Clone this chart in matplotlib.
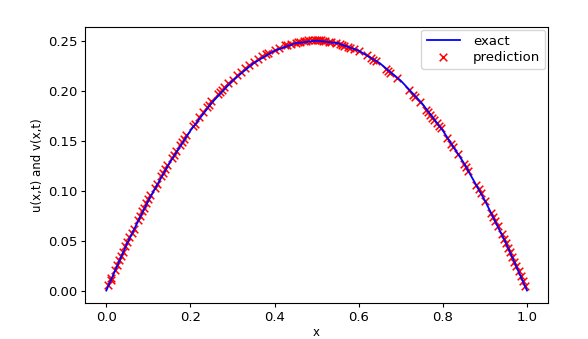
import matplotlib
matplotlib.use("Agg")
import matplotlib.pyplot as plt

# exact solution
x_exact = [0.0, 0.05, 0.1, 0.15, 0.2, 0.25, 0.3, 0.35, 0.4, 0.45, 0.5,
           0.55, 0.6, 0.65, 0.7, 0.75, 0.8, 0.85, 0.9, 0.95, 1.0]
u_exact = [0.0, 0.0475, 0.09, 0.1275, 0.16, 0.1875, 0.21, 0.2275, 0.24, 0.2475, 0.25,
           0.2475, 0.24, 0.2275, 0.21, 0.1875, 0.16, 0.1275, 0.09, 0.0475, 0.0]

# network prediction
x_pred = [0.005, 0.01, 0.02, 0.025, 0.03, 0.035, 0.045, 0.05, 0.055, 0.06,
          0.075, 0.08, 0.085, 0.095, 0.10, 0.105, 0.115, 0.13, 0.14, 0.145,
          0.155, 0.165, 0.175, 0.18, 0.19, 0.205, 0.22, 0.23, 0.24, 0.25,
          0.265, 0.27, 0.28, 0.29, 0.31, 0.33, 0.34, 0.35, 0.37, 0.385,
          0.40, 0.41, 0.425, 0.44, 0.45, 0.46, 0.47, 0.48, 0.49, 0.50,
          0.51, 0.52, 0.53, 0.545, 0.555, 0.565, 0.575, 0.60, 0.62, 0.63,
          0.64, 0.665, 0.675, 0.69, 0.72, 0.73, 0.745, 0.76, 0.77, 0.775,
          0.785, 0.79, 0.81, 0.82, 0.835, 0.85, 0.855, 0.885, 0.89, 0.90,
          0.915, 0.925, 0.93, 0.945, 0.95, 0.96, 0.965, 0.975, 0.985, 0.99, 0.995,
          0.012, 0.04, 0.065, 0.09, 0.12, 0.135, 0.16, 0.185, 0.21, 0.245,
          0.275, 0.30, 0.32, 0.36, 0.38, 0.43, 0.455, 0.475, 0.495, 0.505,
          0.515, 0.535, 0.56, 0.58, 0.59, 0.635, 0.67, 0.735, 0.765, 0.78,
          0.795, 0.825, 0.86, 0.88, 0.92, 0.94, 0.955, 0.97, 0.98]
u_pred = [0.006, 0.011, 0.021, 0.026, 0.031, 0.035, 0.045, 0.049, 0.054, 0.058,
          0.071, 0.075, 0.080, 0.088, 0.092, 0.096, 0.103, 0.115, 0.122, 0.126,
          0.133, 0.140, 0.146, 0.149, 0.156, 0.165, 0.174, 0.179, 0.184, 0.190,
          0.197, 0.199, 0.204, 0.208, 0.216, 0.223, 0.226, 0.229, 0.235, 0.238,
          0.241, 0.243, 0.246, 0.247, 0.248, 0.249, 0.250, 0.251, 0.251, 0.251,
          0.251, 0.250, 0.249, 0.248, 0.247, 0.245, 0.244, 0.240, 0.236, 0.233,
          0.230, 0.222, 0.218, 0.213, 0.201, 0.196, 0.189, 0.181, 0.176, 0.173,
          0.168, 0.165, 0.153, 0.147, 0.137, 0.127, 0.124, 0.102, 0.098, 0.090,
          0.078, 0.070, 0.065, 0.052, 0.048, 0.039, 0.034, 0.025, 0.015, 0.010, 0.005,
          0.013, 0.039, 0.062, 0.083, 0.107, 0.118, 0.136, 0.152, 0.167, 0.186,
          0.201, 0.211, 0.219, 0.232, 0.237, 0.246, 0.249, 0.250, 0.251, 0.251,
          0.250, 0.249, 0.246, 0.243, 0.242, 0.231, 0.220, 0.194, 0.179, 0.171,
          0.163, 0.144, 0.120, 0.106, 0.074, 0.057, 0.043, 0.029, 0.020]

fig = plt.figure(figsize=(5.88, 3.39), dpi=100)
ax = fig.add_axes([0.145, 0.106, 0.787, 0.814])

ax.plot(x_exact, u_exact, "b-", lw=1.3, label="exact")
ax.scatter(x_pred, u_pred, marker="x", c="r", s=30, lw=1.1, label="prediction")

ax.set_xlabel("x", fontsize=8.5, labelpad=2)
ax.set_ylabel("u(x,t) and v(x,t)", fontsize=8.5, labelpad=3)
ax.tick_params(labelsize=9.5, length=3, pad=2.5)
ax.set_xticks([0.0, 0.2, 0.4, 0.6, 0.8, 1.0])
ax.legend(loc="upper right", fontsize=9.5, borderaxespad=0.2,
          labelspacing=0.2, handlelength=2.5, handletextpad=1.0)

fig.savefig("out.png", dpi=100)
